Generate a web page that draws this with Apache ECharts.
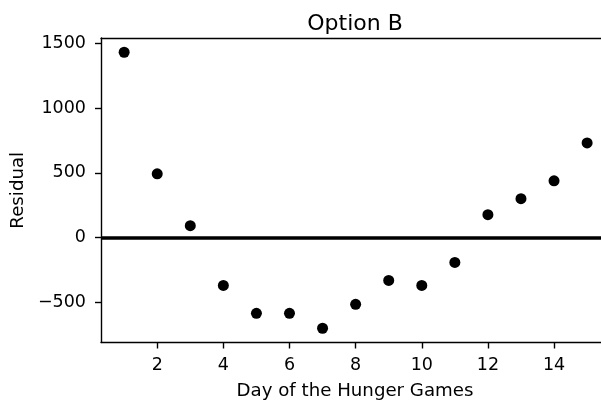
<!DOCTYPE html>
<html>
<head>
<meta charset="utf-8">
<script src="https://cdn.jsdelivr.net/npm/echarts@6/dist/echarts.min.js"></script>
<style>html,body{margin:0;padding:0;background:#fff}#c{width:601px;height:400px}</style>
</head>
<body>
<div id="c"></div>
<script>
const days = [1,2,3,4,5,6,7,8,9,10,11,12,13,14,15];
const residuals = [1431,492,92,-369,-585,-585,-700,-515,-331,-369,-192,177,300,438,731];
const xTicks = [2,4,6,8,10,12,14];
const yTicks = [-500,0,500,1000,1500];
const titleText = 'Option B';
const xLabel = 'Day of the Hunger Games';
const yLabel = 'Residual';

const font = 'DejaVu Sans';
const fmt = v => String(v).replace('-', '\u2212');
const lw = 1.4;
const chart = echarts.init(document.getElementById('c'), null, {renderer:'canvas'});
chart.setOption({
  animation: false,
  backgroundColor: '#fff',
  title: {text: titleText, left: 350, top: 8, textAlign: 'center',
    textStyle: {fontFamily: font, fontSize: 22, fontWeight: 'normal', color: '#000'}},
  grid: {left: 101, top: 38, right: 0, bottom: 57.5, containLabel: false, outerBoundsMode: 'none'},
  xAxis: [{
    type: 'value', min: 0.3, max: 15.42,
    name: xLabel, nameLocation: 'middle', nameGap: 40,
    nameTextStyle: {fontFamily: font, fontSize: 18.2, color: '#000', padding: [0, 0, 0, 8]},
    axisLine: {show: true, onZero: false, lineStyle: {color: '#000', width: lw}},
    axisTick: {show: true, length: 6, lineStyle: {color: '#000', width: lw}, customValues: xTicks},
    axisLabel: {fontFamily: font, fontSize: 17.5, color: '#000', margin: 14, customValues: xTicks, formatter: fmt},
    splitLine: {show: false}
  }, {
    type: 'value', position: 'top', min: 0.3, max: 15.42,
    axisLine: {show: true, onZero: false, lineStyle: {color: '#000', width: lw}},
    axisTick: {show: false}, axisLabel: {show: false}, splitLine: {show: false}
  }],
  yAxis: {
    type: 'value', min: -810, max: 1541,
    name: yLabel, nameLocation: 'middle', nameGap: 69, nameRotate: 90,
    nameTextStyle: {fontFamily: font, fontSize: 18.2, color: '#000'},
    axisLine: {show: true, onZero: false, lineStyle: {color: '#000', width: lw}},
    axisTick: {show: true, length: 6, lineStyle: {color: '#000', width: lw}, customValues: yTicks},
    axisLabel: {fontFamily: font, fontSize: 17.5, color: '#000', margin: 15, customValues: yTicks, formatter: fmt},
    splitLine: {show: false}
  },
  series: [{
    type: 'scatter',
    data: days.map((d, i) => [d, residuals[i]]),
    symbolSize: 11,
    itemStyle: {color: '#000', opacity: 1},
    markLine: {
      silent: true, symbol: ['none','none'], label: {show: false},
      lineStyle: {color: '#000', width: 3.5, type: 'solid'},
      data: [{yAxis: 0}]
    },
    z: 3
  }]
});
</script>
</body>
</html>
